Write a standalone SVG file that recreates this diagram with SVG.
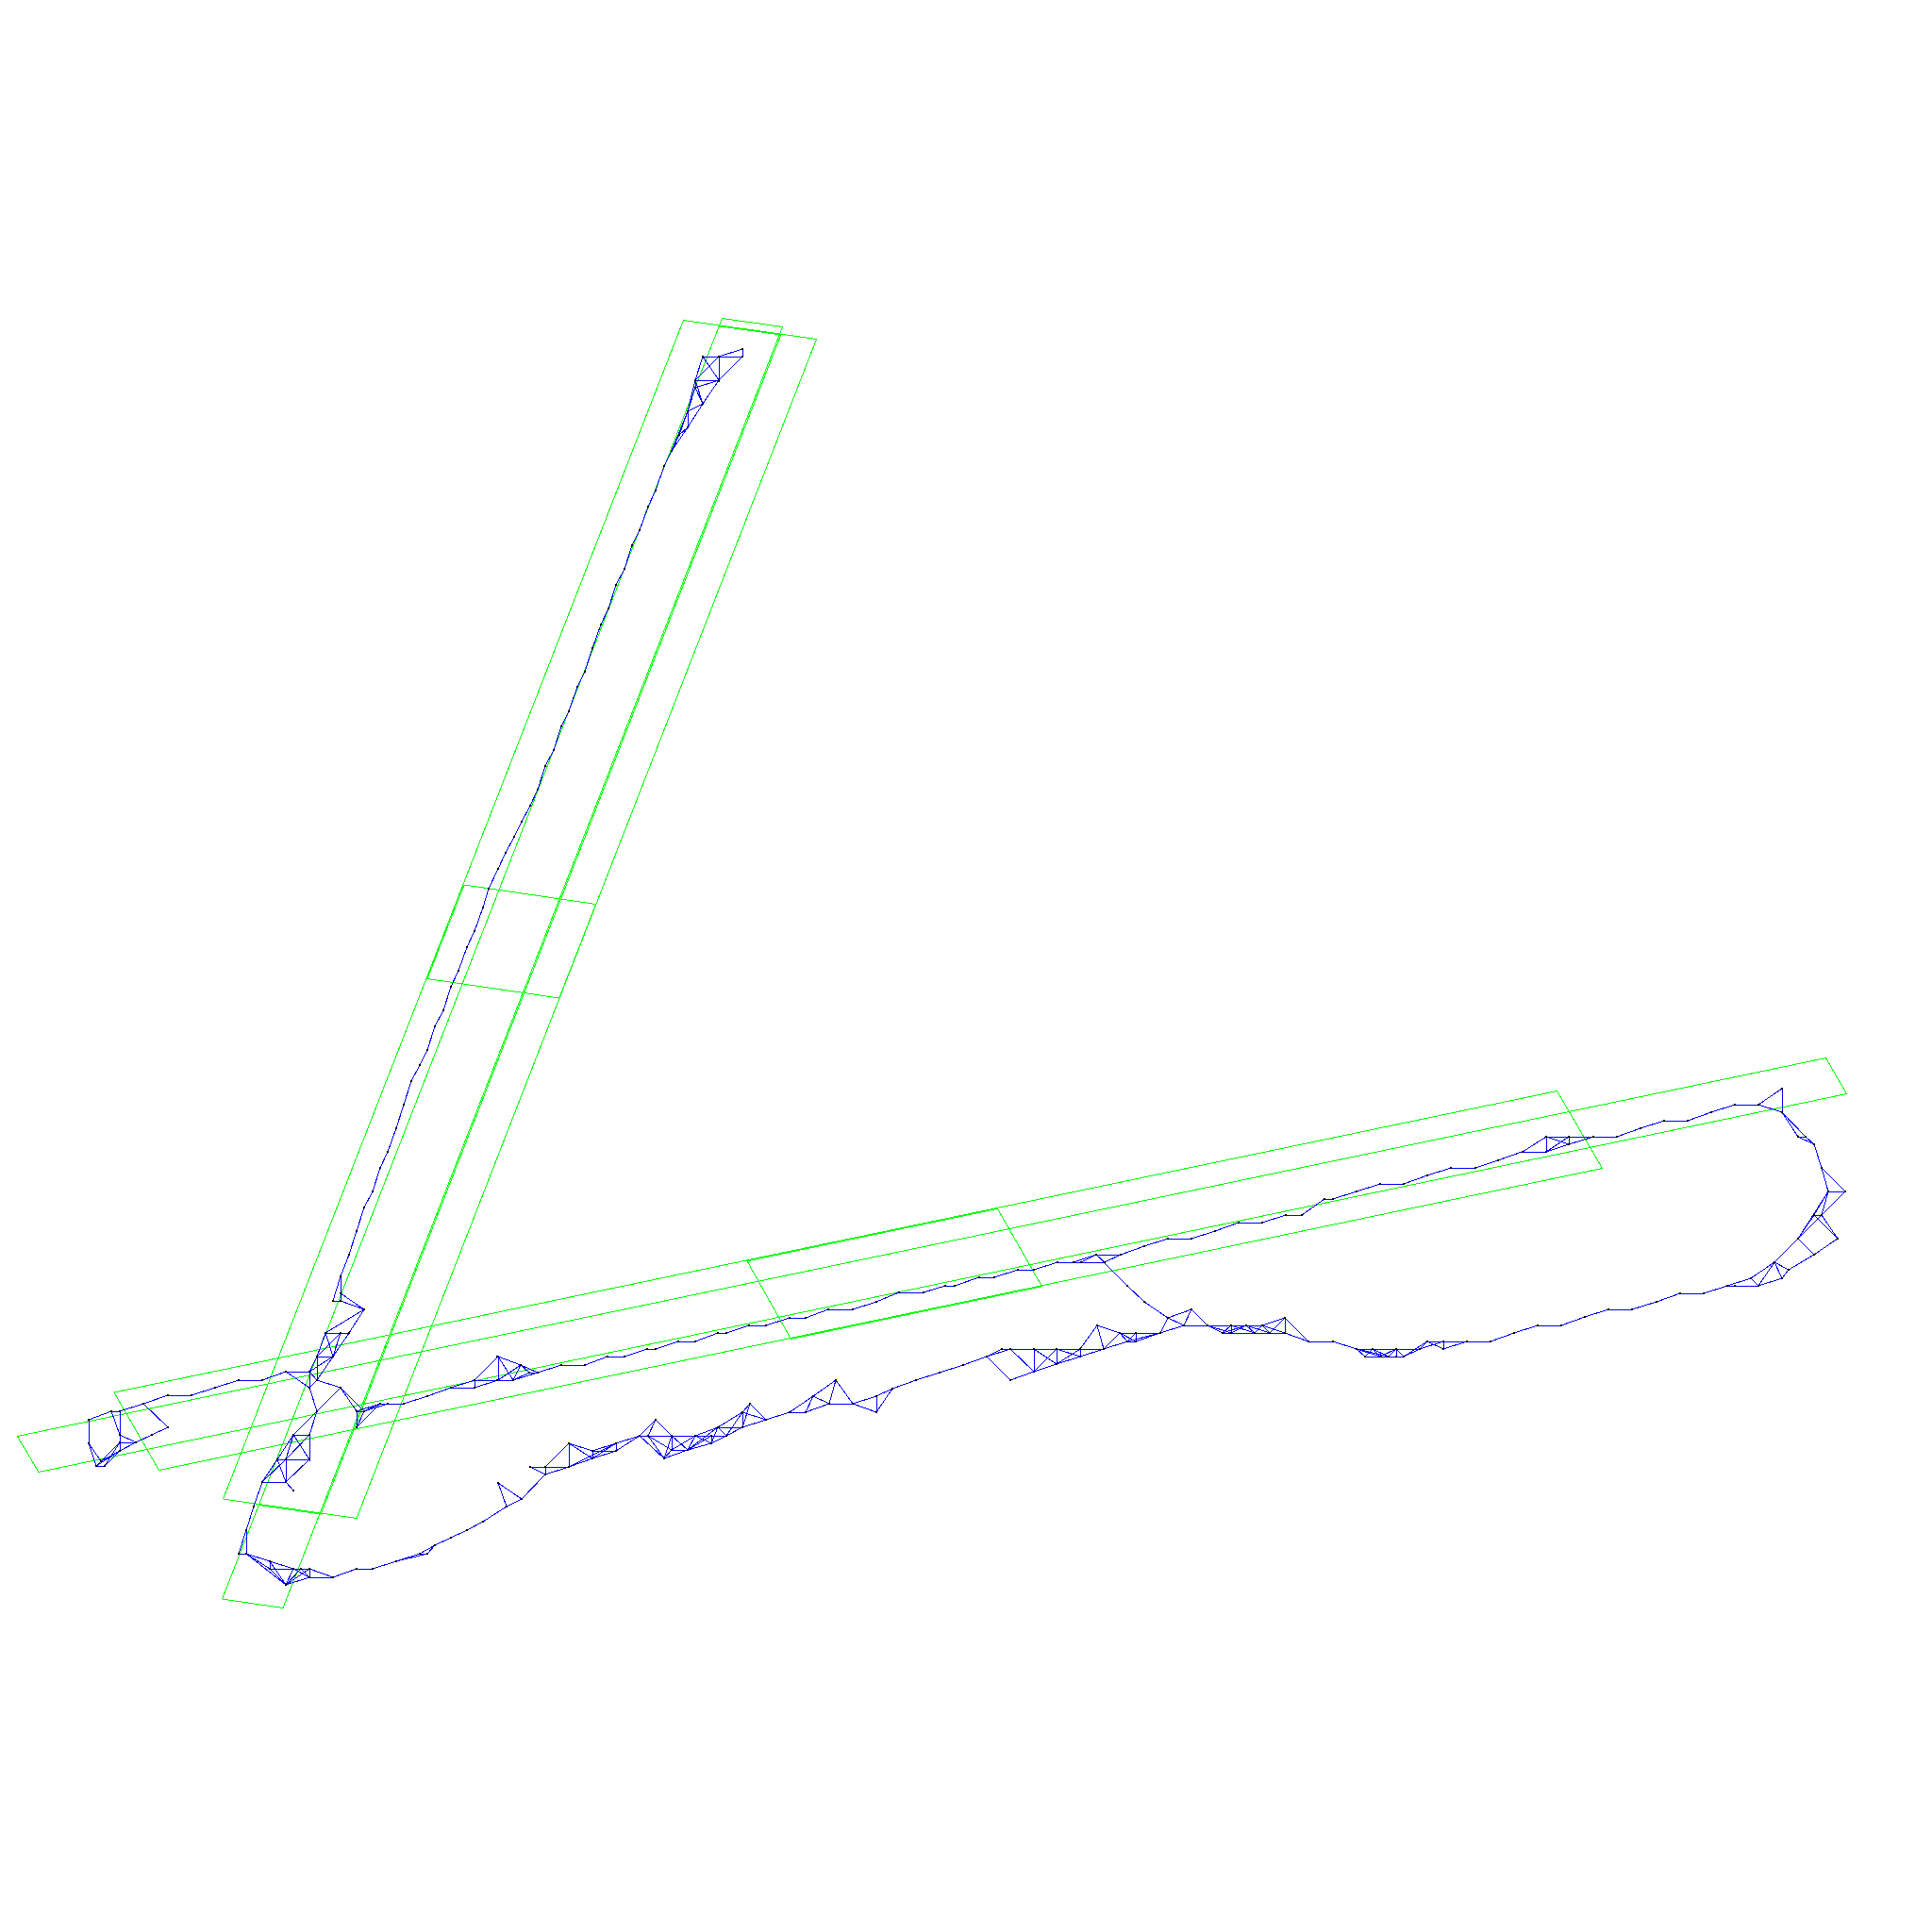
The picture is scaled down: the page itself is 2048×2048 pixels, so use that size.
<svg xmlns="http://www.w3.org/2000/svg" width="2048" height="2048" viewBox="0 0 2048 2048">
<style>
rect.bg{fill:#fff}
#frames polygon,#frames polyline{fill:none;stroke:#0f0;stroke-width:1;shape-rendering:crispEdges}
#connectors path{fill:none;stroke:#00f;stroke-width:1;shape-rendering:crispEdges}
#nodes rect{width:2px;height:2px;fill:#000;shape-rendering:crispEdges}
</style>
<rect class="bg" width="2048" height="2048"/>
<g id="frames">
<polygon id="frame1" points="724.5,339.5 865.5,359.5 378,1609.5 236.5,1589"/>
<polygon id="frame2" points="765.5,337.5 829.5,346.5 300,1704.5 235.5,1695"/>
<polyline id="frame3" points="762.6,345.9 827.8,354.9 340.2,1605 274.6,1595.5"/>
<polygon id="frame4" points="492,938 631.7,958.5 592.8,1058 453,1037.5"/>
<polygon id="frame5" points="121,1476 1650.5,1156.5 1698.5,1238.5 168.5,1558.5"/>
<polygon id="frame6" points="18.5,1522.5 1935.5,1121.5 1957.5,1159.5 41,1560.5"/>
<polygon id="frame7" points="792,1336.8 1057.5,1281.3 1104.5,1363.7 838.5,1419.4"/>
</g>
<g id="connectors">
<path d="M94 1505L118 1496L127 1496L152 1488L178 1479L203 1479L228 1471L253 1463L278 1463L303 1454L328 1454
M152 1488L178 1513L161 1521L144 1529L127 1538L111 1554L102 1554L94 1530L94 1505
M118 1496L127 1521L144 1529L127 1529L102 1554M127 1496L127 1538M94 1530L107 1549L127 1529M107 1549L127 1538L102 1554M127 1529L111 1554M107 1549L102 1554
M361 1353L353 1379L361 1379L361 1353M361 1371L386 1388L361 1379M386 1388L370 1413L345 1413L361 1413M386 1388L345 1413
M345 1413L336 1438L353 1438L345 1413M361 1413L336 1438M370 1413L353 1438M361 1413L353 1438M336 1438L328 1454M336 1438L336 1463M353 1438L328 1454M353 1438L336 1463M328 1454L336 1463L328 1471L328 1454M303 1454L328 1471L336 1496L361 1471L336 1463M361 1471L378 1496M361 1471L386 1496
M336 1496L311 1521L328 1521L336 1496M311 1521L294 1547L303 1547L311 1521L328 1547L328 1521L303 1547L328 1547M294 1547L278 1571L303 1571L294 1547M303 1547L278 1571M303 1547L303 1571L328 1547M303 1571L311 1580M278 1571L269 1597L261 1622L261 1647L253 1647L269 1597M261 1622L253 1647
M261 1647L286 1655L286 1663L311 1663L328 1663L353 1672L328 1672L328 1663M261 1647L286 1663M261 1647L303 1680L286 1655L311 1663L303 1680L319 1663L328 1672M286 1663L303 1680L328 1663M286 1655L311 1663L328 1672L303 1680
M353 1672L378 1663L395 1663L420 1655L445 1647L453 1647L461 1638L445 1647M420 1655L453 1647M461 1638L478 1630L495 1622L512 1613L537 1597L553 1589L528 1572L537 1597M553 1589L578 1563L578 1555L562 1555L578 1563L603 1555L603 1530L578 1555L603 1555
M603 1530L628 1538L653 1530L653 1538L628 1546L628 1538L653 1538M603 1530L628 1546L653 1530M603 1555L628 1546M603 1555L653 1530M653 1530L678 1522L653 1538
M678 1522L770 1522M678 1522L695 1505L687 1522L704 1546L678 1522M695 1505L712 1522L712 1537L704 1546L712 1522L729 1537L712 1537M687 1522L712 1537L737 1522L729 1537L704 1546M729 1537L754 1522L754 1530L729 1537L761 1513L737 1522L754 1530L761 1513M754 1530L770 1522L761 1513L787 1513L770 1522L787 1497L761 1513M787 1497L787 1513L812 1505L795 1488L787 1513M787 1497L795 1488M787 1497L812 1505
M812 1505L837 1497L854 1497L879 1488L904 1488L929 1480L929 1497L904 1488L886 1463L879 1488L862 1480L854 1497M837 1497L862 1480L886 1463M929 1480L946 1472L929 1497M946 1472L971 1463L996 1455L1021 1447L1046 1438L1062 1430L1170 1430M1046 1438L1071 1430M1046 1438L1071 1463L1096 1454L1071 1430M1096 1430L1096 1454L1120 1430L1120 1446L1096 1430M1096 1454L1120 1446L1145 1438L1145 1430L1120 1446M1120 1430L1145 1438L1170 1430L1145 1430L1163 1405L1170 1430L1187 1413L1163 1405M1170 1430L1195 1422L1187 1413L1230 1413L1204 1422L1204 1413L1195 1422L1204 1422M1187 1413L1204 1422M1195 1422L1230 1413L1238 1397L1255 1405L1230 1413M1238 1397L1263 1388L1255 1405L1280 1405L1263 1388M1213 1380L1238 1397M1162 1330L1195 1363L1213 1380
M1280 1405L1338 1405M1280 1405L1296 1413L1362 1413M1280 1405L1305 1413L1305 1405L1296 1413L1321 1405L1305 1413M1305 1405L1330 1413L1321 1405L1346 1413L1338 1405L1330 1413M1338 1405L1362 1413L1362 1397L1346 1413M1338 1405L1362 1397L1387 1422L1362 1413L1387 1422L1413 1422L1438 1430L1505 1430M1438 1430L1447 1438L1488 1438M1438 1430L1463 1438L1455 1430L1472 1438L1480 1430L1480 1438M1447 1438L1455 1430M1438 1430L1472 1438M1463 1438L1480 1430L1488 1438L1505 1430L1513 1422L1488 1438M1505 1430L1530 1422L1513 1422L1530 1430L1530 1422L1555 1422M1513 1422L1505 1430M1530 1430L1555 1422L1580 1422L1605 1413L1630 1405L1655 1405L1680 1396L1705 1388L1730 1388L1756 1380L1781 1371L1806 1371L1831 1363L1864 1363L1856 1355L1831 1363M1856 1355L1881 1338L1864 1363L1889 1355L1881 1338L1896 1346L1889 1355M1896 1346L1923 1330L1906 1313L1881 1338M1923 1330L1948 1313L1931 1288L1906 1313L1938 1263L1923 1288L1931 1288L1938 1263L1956 1263L1931 1288M1923 1288L1948 1313M1923 1288L1906 1313M1938 1263L1931 1238L1956 1263M1931 1238L1923 1213L1914 1205L1889 1179L1906 1205L1914 1205M1906 1205L1923 1213M1889 1179L1889 1154L1864 1171L1889 1179M1864 1171L1839 1171L1814 1179L1789 1188L1764 1188L1739 1196L1714 1205L1639 1205L1614 1221L1639 1221L1639 1205L1663 1213L1663 1205L1639 1221L1663 1213L1689 1205M1613 1221L1588 1230L1564 1238L1538 1238L1513 1246L1488 1255L1463 1255L1438 1263L1413 1271L1404 1271L1380 1288L1363 1288L1338 1296L1313 1296L1288 1305L1263 1313L1238 1313L1213 1321L1188 1330L1171 1338L1146 1338L1138 1338L1121 1338L1096 1346L1079 1346L1054 1354L1038 1354L1012 1363L1002 1363L979 1370L953 1370L929 1380L904 1388L878 1388L854 1397L837 1397L812 1405L794 1405L770 1413L761 1413L737 1422L719 1422L695 1430L686 1430L662 1438L644 1438L620 1447L595 1447L570 1455L561 1455L552 1447L544 1463L527 1463L503 1463L478 1471L453 1480L428 1488L403 1488L386 1496L378 1496L378 1513L386 1496M378 1513L403 1488M378 1496L403 1488M386 1496L411 1488M478 1471L503 1471L503 1463L528 1438L528 1463L552 1447L528 1438L544 1463L570 1455M503 1471L528 1463M544 1463L561 1455M552 1447L570 1455
M1138 1338L1162 1330L1188 1330M1146 1338L1162 1330L1171 1338L1188 1330
M787 370L762 378L745 378L787 378L787 370M787 378L762 403L737 403L745 378L762 403L762 378L737 403L737 411L762 403L745 428L737 403M737 411L745 428L729 436L737 403M737 411L729 436L729 453L745 428M729 436L720 461L712 478L729 453L720 461M729 436L712 478L704 494L695 520L687 537L678 562L670 578L662 603L653 620L645 645L637 662L628 687L620 712L612 728L603 754L595 770L587 795L578 812L570 837L562 854L553 871L545 887L536 904L528 921L518 942L512 962L503 987L495 1004L486 1029L478 1046L470 1071L461 1088L453 1113L445 1129L436 1146L428 1171L420 1196L411 1221L403 1238L395 1263L386 1280L378 1305L370 1330L361 1353"/>
</g>
<g id="nodes">
<g id="n1"><rect x="93" y="1504"/><rect x="117" y="1495"/><rect x="126" y="1495"/><rect x="151" y="1487"/><rect x="177" y="1478"/><rect x="202" y="1478"/><rect x="227" y="1470"/><rect x="252" y="1462"/><rect x="277" y="1462"/><rect x="302" y="1453"/><rect x="327" y="1453"/><rect x="327" y="1470"/><rect x="335" y="1462"/><rect x="360" y="1470"/><rect x="335" y="1495"/><rect x="177" y="1512"/><rect x="160" y="1520"/><rect x="126" y="1520"/><rect x="143" y="1528"/><rect x="126" y="1528"/><rect x="126" y="1537"/><rect x="93" y="1529"/><rect x="101" y="1553"/><rect x="110" y="1553"/><rect x="106" y="1548"/></g>
<g id="n2"><rect x="360" y="1352"/><rect x="352" y="1378"/><rect x="360" y="1378"/><rect x="360" y="1370"/><rect x="385" y="1387"/><rect x="344" y="1412"/><rect x="360" y="1412"/><rect x="369" y="1412"/><rect x="335" y="1437"/><rect x="352" y="1437"/><rect x="310" y="1520"/><rect x="327" y="1520"/><rect x="293" y="1546"/><rect x="302" y="1546"/><rect x="327" y="1546"/><rect x="277" y="1570"/><rect x="302" y="1570"/><rect x="310" y="1579"/><rect x="268" y="1596"/><rect x="260" y="1621"/><rect x="252" y="1646"/><rect x="260" y="1646"/></g>
<g id="n3"><rect x="285" y="1654"/><rect x="285" y="1662"/><rect x="310" y="1662"/><rect x="318" y="1662"/><rect x="327" y="1662"/><rect x="302" y="1679"/><rect x="327" y="1671"/><rect x="352" y="1671"/><rect x="377" y="1662"/><rect x="394" y="1662"/><rect x="419" y="1654"/><rect x="444" y="1646"/><rect x="452" y="1646"/><rect x="460" y="1637"/><rect x="477" y="1629"/><rect x="494" y="1621"/><rect x="511" y="1612"/><rect x="536" y="1596"/><rect x="552" y="1588"/><rect x="527" y="1571"/></g>
<g id="n4"><rect x="577" y="1562"/><rect x="577" y="1554"/><rect x="561" y="1554"/><rect x="602" y="1554"/><rect x="602" y="1529"/><rect x="627" y="1537"/><rect x="627" y="1545"/><rect x="652" y="1529"/><rect x="652" y="1537"/><rect x="677" y="1521"/><rect x="686" y="1521"/><rect x="694" y="1504"/><rect x="711" y="1521"/><rect x="711" y="1536"/><rect x="703" y="1545"/><rect x="728" y="1536"/><rect x="736" y="1521"/><rect x="753" y="1521"/><rect x="753" y="1529"/><rect x="760" y="1512"/><rect x="769" y="1521"/><rect x="786" y="1512"/><rect x="786" y="1496"/><rect x="794" y="1487"/><rect x="811" y="1504"/></g>
<g id="n5"><rect x="836" y="1496"/><rect x="853" y="1496"/><rect x="861" y="1479"/><rect x="878" y="1487"/><rect x="885" y="1462"/><rect x="903" y="1487"/><rect x="928" y="1479"/><rect x="928" y="1496"/><rect x="945" y="1471"/><rect x="970" y="1462"/><rect x="995" y="1454"/><rect x="1020" y="1446"/><rect x="1045" y="1437"/><rect x="1061" y="1429"/><rect x="1070" y="1429"/><rect x="1070" y="1462"/><rect x="1095" y="1429"/><rect x="1095" y="1453"/><rect x="1119" y="1429"/><rect x="1119" y="1445"/><rect x="1144" y="1429"/><rect x="1144" y="1437"/><rect x="1169" y="1429"/><rect x="1162" y="1404"/><rect x="1186" y="1412"/><rect x="1194" y="1421"/><rect x="1203" y="1412"/><rect x="1203" y="1421"/><rect x="1229" y="1412"/><rect x="1237" y="1396"/><rect x="1212" y="1379"/><rect x="1194" y="1362"/></g>
<g id="n6"><rect x="1254" y="1404"/><rect x="1262" y="1387"/><rect x="1279" y="1404"/><rect x="1295" y="1412"/><rect x="1304" y="1412"/><rect x="1304" y="1404"/><rect x="1320" y="1404"/><rect x="1329" y="1412"/><rect x="1337" y="1404"/><rect x="1345" y="1412"/><rect x="1361" y="1412"/><rect x="1361" y="1396"/><rect x="1386" y="1421"/><rect x="1412" y="1421"/><rect x="1437" y="1429"/><rect x="1446" y="1437"/><rect x="1454" y="1429"/><rect x="1462" y="1437"/><rect x="1471" y="1437"/><rect x="1479" y="1429"/><rect x="1479" y="1437"/><rect x="1487" y="1437"/><rect x="1504" y="1429"/><rect x="1512" y="1421"/><rect x="1529" y="1421"/><rect x="1529" y="1429"/><rect x="1554" y="1421"/><rect x="1579" y="1421"/><rect x="1604" y="1412"/><rect x="1629" y="1404"/><rect x="1654" y="1404"/><rect x="1679" y="1395"/><rect x="1704" y="1387"/><rect x="1729" y="1387"/><rect x="1755" y="1379"/><rect x="1780" y="1370"/><rect x="1805" y="1370"/><rect x="1830" y="1362"/><rect x="1838" y="1362"/><rect x="1863" y="1362"/><rect x="1855" y="1354"/></g>
<g id="n7"><rect x="1880" y="1337"/><rect x="1888" y="1354"/><rect x="1895" y="1345"/><rect x="1905" y="1312"/><rect x="1922" y="1329"/><rect x="1947" y="1312"/><rect x="1922" y="1287"/><rect x="1930" y="1287"/><rect x="1937" y="1262"/><rect x="1955" y="1262"/><rect x="1930" y="1237"/><rect x="1922" y="1212"/><rect x="1913" y="1204"/><rect x="1905" y="1204"/><rect x="1888" y="1178"/><rect x="1888" y="1153"/><rect x="1863" y="1170"/><rect x="1838" y="1170"/><rect x="1813" y="1178"/><rect x="1788" y="1187"/><rect x="1763" y="1187"/><rect x="1738" y="1195"/><rect x="1713" y="1204"/><rect x="1688" y="1204"/><rect x="1662" y="1204"/><rect x="1662" y="1212"/><rect x="1638" y="1204"/><rect x="1638" y="1220"/><rect x="1613" y="1220"/></g>
<g id="n8"><rect x="1587" y="1229"/><rect x="1563" y="1237"/><rect x="1537" y="1237"/><rect x="1512" y="1245"/><rect x="1487" y="1254"/><rect x="1462" y="1254"/><rect x="1437" y="1262"/><rect x="1412" y="1270"/><rect x="1403" y="1270"/><rect x="1379" y="1287"/><rect x="1362" y="1287"/><rect x="1337" y="1295"/><rect x="1312" y="1295"/><rect x="1287" y="1304"/><rect x="1262" y="1312"/><rect x="1237" y="1312"/><rect x="1212" y="1320"/><rect x="1187" y="1329"/><rect x="1161" y="1329"/><rect x="1170" y="1337"/><rect x="1145" y="1337"/><rect x="1137" y="1337"/><rect x="1120" y="1337"/><rect x="1095" y="1345"/><rect x="1078" y="1345"/><rect x="1053" y="1353"/><rect x="1037" y="1353"/><rect x="1011" y="1362"/><rect x="1001" y="1362"/><rect x="978" y="1369"/><rect x="952" y="1369"/><rect x="928" y="1379"/><rect x="903" y="1387"/><rect x="877" y="1387"/><rect x="853" y="1396"/><rect x="836" y="1396"/><rect x="811" y="1404"/><rect x="793" y="1404"/><rect x="769" y="1412"/><rect x="760" y="1412"/><rect x="736" y="1421"/><rect x="718" y="1421"/><rect x="694" y="1429"/><rect x="685" y="1429"/><rect x="661" y="1437"/><rect x="643" y="1437"/><rect x="619" y="1446"/><rect x="594" y="1446"/><rect x="569" y="1454"/><rect x="560" y="1454"/><rect x="551" y="1446"/><rect x="543" y="1462"/><rect x="526" y="1462"/><rect x="526" y="1437"/><rect x="502" y="1462"/><rect x="502" y="1470"/><rect x="477" y="1470"/><rect x="452" y="1479"/><rect x="427" y="1487"/><rect x="410" y="1487"/><rect x="402" y="1487"/><rect x="385" y="1495"/><rect x="377" y="1495"/><rect x="377" y="1512"/></g>
<g id="n9"><rect x="786" y="369"/><rect x="786" y="377"/><rect x="761" y="377"/><rect x="744" y="377"/><rect x="761" y="402"/><rect x="736" y="402"/><rect x="736" y="410"/><rect x="744" y="427"/><rect x="728" y="435"/><rect x="728" y="452"/><rect x="719" y="460"/><rect x="711" y="477"/><rect x="703" y="493"/><rect x="694" y="519"/><rect x="686" y="536"/><rect x="677" y="561"/><rect x="669" y="577"/><rect x="661" y="602"/><rect x="652" y="619"/><rect x="644" y="644"/><rect x="636" y="661"/><rect x="627" y="686"/><rect x="619" y="711"/><rect x="611" y="727"/><rect x="602" y="753"/><rect x="594" y="769"/><rect x="586" y="794"/><rect x="577" y="811"/><rect x="569" y="836"/><rect x="561" y="853"/><rect x="552" y="870"/><rect x="544" y="886"/><rect x="535" y="903"/><rect x="527" y="920"/><rect x="517" y="941"/><rect x="511" y="961"/><rect x="502" y="986"/><rect x="494" y="1003"/><rect x="485" y="1028"/><rect x="477" y="1045"/><rect x="469" y="1070"/><rect x="460" y="1087"/><rect x="452" y="1112"/><rect x="444" y="1128"/><rect x="435" y="1145"/><rect x="427" y="1170"/><rect x="419" y="1195"/><rect x="410" y="1220"/><rect x="402" y="1237"/><rect x="394" y="1262"/><rect x="385" y="1279"/><rect x="377" y="1304"/><rect x="369" y="1329"/></g>
</g>
</svg>
